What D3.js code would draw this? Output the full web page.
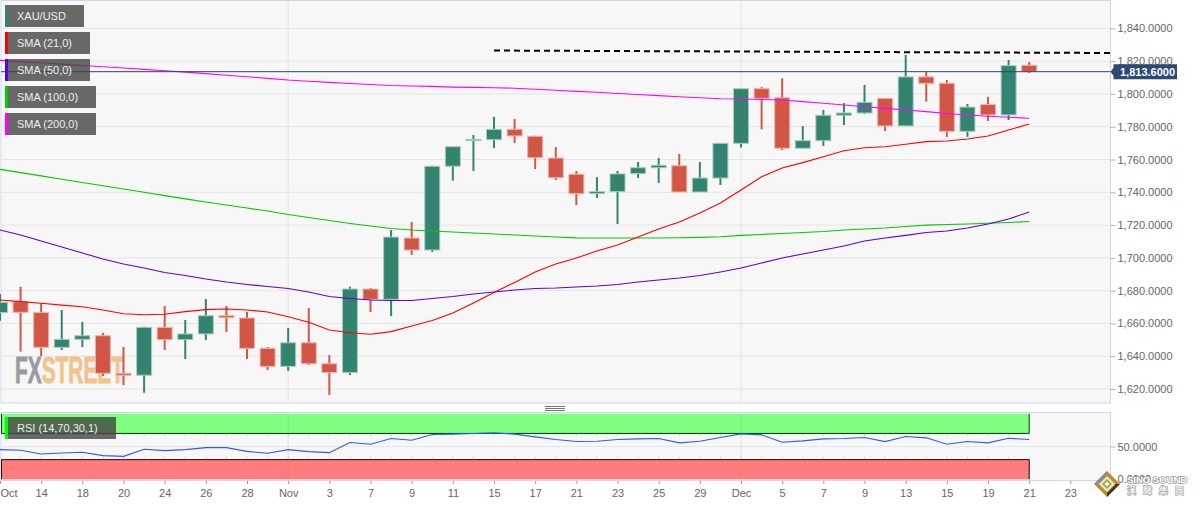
<!DOCTYPE html>
<html>
<head>
<meta charset="utf-8">
<script src="https://cdnjs.cloudflare.com/ajax/libs/d3/7.8.5/d3.min.js"></script>
<style>
html,body{margin:0;padding:0;background:#fff;overflow:hidden}
text{font-family:"Liberation Sans",Arial,sans-serif}
</style>
</head>
<body>
<div id="chart"></div>
<script>
// candles, one per trading day
const opens = [1666.6,1673.3,1666.6,1645.4,1650.3,1652.5,1629.6,1628.4,1657.6,1650.1,1653.6,1664.7,1663.3,1644.8,1633.8,1648.2,1635.4,1630,1681,1674.7,1712.1,1704.8,1755.9,1771.5,1772.1,1778.4,1774.2,1760.9,1751,1739.2,1740.4,1751.4,1755,1756.2,1740.2,1748.7,1769.9,1803.2,1797.7,1766.9,1771.5,1787,1788.4,1797.3,1780.5,1810.4,1806.5,1777.2,1793.5,1787.2,1817.5];
const closes = [1672.9,1666.8,1645.4,1650.3,1652.5,1629.6,1628.4,1657.6,1650.1,1653.6,1664.7,1663.5,1644.8,1633.8,1648.2,1635.4,1630,1681,1674.7,1712.7,1704.8,1755.9,1767.8,1772.3,1778.4,1774.4,1761.1,1748.9,1739.2,1740.4,1751.2,1755,1756.5,1740.2,1748.7,1769.9,1803.2,1797.3,1766.9,1771.5,1787,1788.4,1794.9,1780.5,1810.4,1806.5,1777.2,1792,1787.2,1817.3,1813.6];
const highs = [1678,1682.4,1672.3,1668.2,1661,1654.2,1645.6,1658,1670.6,1662.1,1674.9,1670.6,1667,1645.6,1657.2,1669.4,1640.7,1682.4,1681.6,1717,1721.9,1756.2,1768,1775,1786,1784.7,1774.5,1767.6,1753,1749.3,1753,1758.5,1761,1763.4,1758.5,1770,1803.6,1804.2,1809.5,1780.4,1790.3,1794.5,1805.5,1797.3,1823.8,1813.6,1808.5,1793.9,1798.2,1820.7,1819.5];
const lows = [1661.7,1642.8,1640.1,1643.8,1645.6,1627.9,1622.4,1617.7,1643.8,1638.3,1649.9,1654.8,1638.3,1631.6,1631,1634.6,1616.3,1628.5,1667,1664.5,1701.8,1703.6,1747.1,1753,1767,1770,1754.2,1747.5,1732.3,1736.5,1720.7,1748.7,1745.7,1740.2,1740.2,1744.5,1767.4,1778.4,1765.8,1766.9,1768.3,1781,1787.8,1777.4,1780.5,1795.3,1773.8,1773.8,1783.5,1784.1,1812.8];

const sma21 = [1674.3,1673.3,1672.3,1671.2,1670.2,1668.2,1665.9,1665.3,1665.6,1667.2,1668.4,1668.8,1668.2,1667,1664.1,1660.7,1656,1654.3,1653.4,1655,1658.4,1661.8,1666.4,1672.5,1678.9,1685,1691.4,1696.3,1699.9,1704.2,1707.9,1712.7,1717.6,1721.9,1727.4,1733.5,1741.4,1749.5,1754.8,1758.1,1761.7,1765.4,1767.2,1767.8,1769.3,1770.9,1771.3,1772.5,1774.4,1778,1781.7];
const sma50 = [1717,1714,1710.3,1706.6,1703,1699.3,1696.3,1693.8,1691.1,1689.2,1687.1,1685.3,1683.8,1682.5,1681.3,1679.2,1676.4,1675.2,1674.3,1674,1674,1675.2,1676.4,1678,1679.2,1680.4,1681.3,1681.6,1682.2,1682.8,1683.8,1685.3,1686.5,1687.7,1689.2,1691.4,1693.8,1696.9,1699.9,1702.4,1704.8,1707.2,1710.3,1712.1,1713.7,1715.5,1716.4,1718.2,1720.7,1723.7,1728];
const sma100 = [1754,1752,1750,1748,1746,1744,1742,1740,1738,1736,1734.1,1732.3,1730.4,1728.6,1726.5,1724.6,1722.8,1721,1719.4,1717.9,1717,1716.4,1715.8,1715.2,1714.6,1714,1713.3,1712.7,1712.2,1712.1,1712.1,1712.1,1712.1,1712.3,1712.5,1712.9,1713.7,1714.3,1714.9,1715.5,1716.1,1717,1717.6,1718.2,1719.1,1720,1720.4,1720.7,1721.1,1721.6,1722.2];
const sma200 = [1820.5,1819.7,1819,1818.2,1817.4,1816.6,1815.8,1815,1814.2,1813.3,1812.4,1811.4,1810.5,1809.5,1808.5,1807.8,1807.1,1806.4,1805.8,1805.2,1804.9,1804.6,1804.2,1804,1803.8,1803.5,1802.9,1802.3,1801.6,1801,1800.3,1799.7,1799,1798.3,1797.7,1797.1,1796.9,1796.6,1796.3,1795.3,1794.3,1793.3,1792.2,1791.2,1790.2,1789.2,1788.1,1787.2,1786.4,1785.8,1785.2];
const rsi = [45.3,44.3,38.6,40.2,41.2,36.1,35,45.8,43.8,45.3,48.4,48.4,42.7,39.7,45.3,42.2,40.7,56.1,53.5,62.2,59.7,68.4,68.9,69.9,71,68.9,64.8,60.7,57.6,58.1,60.7,61.7,62.2,55.6,58.1,63.8,69.4,67.9,56.6,58.6,61.7,62.2,63.8,57.6,65.3,63.3,53.5,57.6,55.6,62.7,60.7];

const priceTicks = [1620,1640,1660,1680,1700,1720,1740,1760,1780,1800,1820,1840];
const rsiTicks = [0,50];
const dayTicks = [0,2,4,6,8,10,12,14,16,18,20,22,24,26,28,30,32,34,36,38,40,42,44,46,48,50,52];
const dayLabels = ["Oct","14","18","20","24","26","28","Nov","3","7","9","11","15","17","21","23","25","29","Dec","5","7","9","13","15","19","21","23"];
const monthStarts = [14,36];
const lastPrice = 1813.6;
const trendDays = [24,53.95];
const trendPrices = [1826.5,1825];

const legendNames = ["XAU/USD","SMA (21,0)","SMA (50,0)","SMA (100,0)","SMA (200,0)"];
const legendColors = ["#2f8570","#ff0000","#5a00e6","#00cc00","#ff00ff"];
const legendWidths = [79,85,85,91,91];

const width = 1194, height = 506;
const right = 1110.5;
const upColor = "#33846f", downColor = "#d25645";

let svg = d3.select("#chart").append("svg")
    .attr("width",width)
    .attr("height",height)
    .style("display","block");

let x = d3.scaleLinear().domain([0,53.95]).range([0,right]);
let y = d3.scaleLinear().domain([1620,1840]).range([389,28.4]);
let yRsi = d3.scaleLinear().domain([0,100]).range([479.3,413.8]);
let format = d3.format(",.4f");
let days = d3.range(opens.length);

//panels
const borderColor = "#cfd7ec";
svg.append("rect").attr("x",1).attr("y",0.5).attr("width",right-1).attr("height",402.5)
    .attr("fill","#f7f7f7").attr("stroke",borderColor);
svg.append("rect").attr("x",1).attr("y",412.5).attr("width",right-1).attr("height",68)
    .attr("fill","#f7f7f7").attr("stroke",borderColor);

//grid
svg.append("g").selectAll("line").data(priceTicks).enter().append("line")
    .attr("x1",1.5).attr("x2",right)
    .attr("y1",d=>y(d)).attr("y2",d=>y(d))
    .attr("stroke","#e5e5e5");
svg.append("g").selectAll("line").data(monthStarts).enter().append("line")
    .attr("x1",d=>x(d)).attr("x2",d=>x(d))
    .attr("y1",1).attr("y2",403)
    .attr("stroke","#e5e5e5");
svg.append("line").attr("x1",1.5).attr("x2",right)
    .attr("y1",yRsi(50)).attr("y2",yRsi(50)).attr("stroke","#e5e5e5");

//splitter handle
svg.append("g").selectAll("line").data([406.5,408.5,410.5]).enter().append("line")
    .attr("x1",545).attr("x2",565)
    .attr("y1",d=>d).attr("y2",d=>d)
    .attr("stroke","#777");

//watermark sits under the candles
let mark = svg.append("text").attr("x",15).attr("y",383)
    .attr("font-weight","bold").attr("font-size",36)
    .attr("stroke-width",0.9)
    .attr("textLength",109).attr("lengthAdjust","spacingAndGlyphs");
mark.append("tspan").attr("fill","#9a9ba2").attr("stroke","#9a9ba2").text("FX");
mark.append("tspan").attr("fill","#f0c48c").attr("stroke","#f0c48c").text("STREET");

//candles
let candles = svg.append("g").selectAll("g").data(days).enter().append("g");
candles.append("line")
    .attr("x1",i=>x(i)).attr("x2",i=>x(i))
    .attr("y1",i=>y(highs[i])).attr("y2",i=>y(lows[i]))
    .attr("stroke-width",2)
    .attr("stroke",i=>closes[i]>=opens[i]?upColor:downColor);
candles.append("rect")
    .attr("x",i=>x(i)-7.5)
    .attr("width",15)
    .attr("y",i=>y(Math.max(opens[i],closes[i])))
    .attr("height",i=>Math.max(1,Math.abs(y(opens[i])-y(closes[i]))))
    .attr("fill",i=>closes[i]>=opens[i]?upColor:downColor)
    .attr("stroke",i=>closes[i]>=opens[i]?"#a9cbc2":"#eeb3aa")
    .attr("stroke-width",1);

//moving averages
let line = d3.line().x((d,i)=>x(i)).y(d=>y(d));
[[sma200,"#ff00ff"],[sma100,"#00cc00"],[sma50,"#5a00e6"],[sma21,"#ff0000"]].forEach(s=>{
    svg.append("path").attr("d",line(s[0]))
        .attr("fill","none").attr("stroke",s[1]).attr("stroke-width",1.1);
});

//hand drawn resistance
svg.append("line")
    .attr("x1",x(trendDays[0])).attr("x2",x(trendDays[1]))
    .attr("y1",y(trendPrices[0])).attr("y2",y(trendPrices[1]))
    .attr("stroke","#000").attr("stroke-width",2).attr("stroke-dasharray","6,4");

//last price line
svg.append("line").attr("x1",1).attr("x2",right)
    .attr("y1",y(lastPrice)).attr("y2",y(lastPrice))
    .attr("stroke","#2c466b").attr("stroke-width",1);

//rsi bands
svg.append("rect").attr("x",1.5).attr("width",x(50)-1.5)
    .attr("y",yRsi(100)).attr("height",yRsi(70)-yRsi(100))
    .attr("fill","#7fff7f");
svg.append("rect").attr("x",1.5).attr("width",x(50)-1.5)
    .attr("y",yRsi(30)).attr("height",yRsi(0)-yRsi(30))
    .attr("fill","#ff7c7c");
svg.append("path")
    .attr("d",`M1.5,${yRsi(100)}V${yRsi(70)}H${x(50)}V${yRsi(100)}`)
    .attr("fill","none").attr("stroke","#063b06").attr("stroke-width",1);
svg.append("path")
    .attr("d",`M1.5,${yRsi(0)}V${yRsi(30)}H${x(50)}V${yRsi(0)}`)
    .attr("fill","none").attr("stroke","#200").attr("stroke-width",1);
//faint day ticks along the band edges
svg.append("g").selectAll("line").data(days).enter().append("line")
    .attr("x1",i=>x(i)).attr("x2",i=>x(i))
    .attr("y1",yRsi(70)+0.5).attr("y2",yRsi(70)+2.5)
    .attr("stroke","#ccc");
svg.append("g").selectAll("line").data(days).enter().append("line")
    .attr("x1",i=>x(i)).attr("x2",i=>x(i))
    .attr("y1",yRsi(30)-2.5).attr("y2",yRsi(30)-0.5)
    .attr("stroke","#ccc");
svg.append("g").selectAll("line").data(monthStarts).enter().append("line")
    .attr("x1",d=>x(d)).attr("x2",d=>x(d))
    .attr("y1",413).attr("y2",480)
    .attr("stroke","#888").attr("stroke-opacity",0.18);
svg.append("path").attr("d",d3.line().x((d,i)=>x(i)).y(d=>yRsi(d))(rsi))
    .attr("fill","none").attr("stroke","#2a5cf5").attr("stroke-width",1.1);

//right axes
let axisRight = d3.axisRight(y).tickValues(priceTicks).tickFormat(format).tickSize(5).tickPadding(2);
let gRight = svg.append("g").attr("transform",`translate(${right},0)`).call(axisRight);
let axisRsi = d3.axisRight(yRsi).tickValues(rsiTicks).tickFormat(format).tickSize(5).tickPadding(2);
let gRsi = svg.append("g").attr("transform",`translate(${right},0)`).call(axisRsi);
[gRight,gRsi].forEach(g=>{
    g.select(".domain").remove();
    g.selectAll("line").attr("stroke","#aab4cc");
    g.selectAll("text").attr("fill","#666").attr("font-size",11).attr("font-family","Liberation Sans");
});

//bottom axis
let axisBottom = d3.axisBottom(x).tickValues(dayTicks).tickFormat((d,i)=>dayLabels[i]).tickSize(3).tickPadding(5);
let gBottom = svg.append("g").attr("transform","translate(0,481)").call(axisBottom);
gBottom.select(".domain").remove();
gBottom.selectAll("line").attr("stroke","#999");
gBottom.selectAll("text").attr("fill","#666").attr("font-size",11).attr("font-family","Liberation Sans");
gBottom.selectAll("text").filter(d=>d===0).attr("text-anchor","start").attr("x",0);

//last price tag
let tagY = y(lastPrice);
svg.append("path")
    .attr("d",`M${right},${tagY}l3,-4V${tagY-7.5}H1177V${tagY+7.5}H${right+3}V${tagY+4}Z`)
    .attr("fill","#2c4a75");
svg.append("text").attr("x",1120).attr("y",tagY+4)
    .attr("fill","#fff").attr("font-size",11).attr("font-weight","bold")
    .text(format(lastPrice));

//legend tags
let legend = svg.append("g").selectAll("g").data(legendNames).enter().append("g")
    .attr("transform",(d,i)=>`translate(5,${5+i*27})`);
legend.append("rect").attr("width",(d,i)=>legendWidths[i]).attr("height",22)
    .attr("fill","#444").attr("fill-opacity",0.8);
legend.append("rect").attr("width",3).attr("height",22)
    .attr("fill",(d,i)=>legendColors[i]);
legend.append("text").attr("x",12).attr("y",15)
    .attr("fill","#eee").attr("font-size",11).text(d=>d);

let rsiTag = svg.append("g").attr("transform","translate(5,417)");
rsiTag.append("rect").attr("width",111).attr("height",22).attr("fill","#444").attr("fill-opacity",0.8);
rsiTag.append("rect").attr("width",3).attr("height",22).attr("fill","#00ff00");
rsiTag.append("text").attr("x",12).attr("y",15).attr("fill","#eee").attr("font-size",11).text("RSI (14,70,30,1)");

//sino sound logo in the corner
let logo = svg.append("g").attr("transform","translate(1107,484)");
logo.append("path").attr("d","M0,-13L13,0L0,13L-13,0Z").attr("fill","#b8902c");
logo.append("path").attr("d","M0,-13L-13,0L-9,0L0,-9Z").attr("fill","#8c8c8c");
logo.append("path").attr("d","M0,13L13,0L9,0L0,9Z").attr("fill","#4a3a12");
logo.append("path").attr("d","M0,-8L8,0L0,8L-8,0Z").attr("fill","#e6e6e0");
logo.append("path").attr("d","M0,-5L5,0L0,5L-5,0Z").attr("fill","#a5a83a");
logo.append("path").attr("d","M0,-2.5L2.5,0L0,2.5L-2.5,0Z").attr("fill","#f4f4ee");
svg.append("text").attr("x",1127).attr("y",483)
    .attr("fill","#fff").attr("stroke","#999").attr("stroke-width",1.6).style("paint-order","stroke")
    .attr("font-size",9.5).attr("font-weight","bold").text("SINO SOUND");
svg.append("text").attr("x",1127).attr("y",493.5)
    .attr("fill","#fff").attr("stroke","#aaa").attr("stroke-width",1.4).style("paint-order","stroke")
    .attr("font-size",9).style("font-family","'Noto Sans CJK TC'")
    .attr("letter-spacing",7).text("漢聲集團");
</script>
</body>
</html>
